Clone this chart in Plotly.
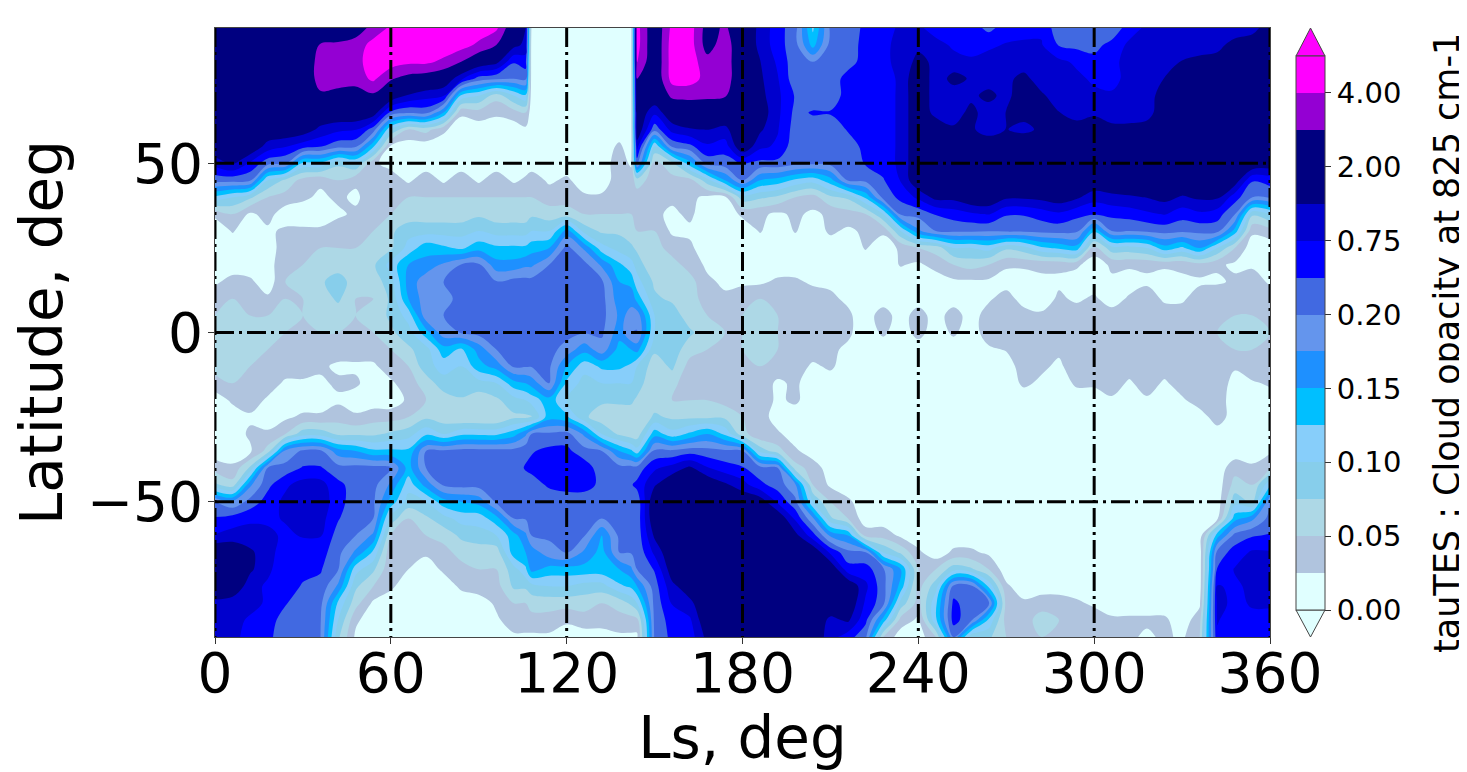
import numpy as np
import plotly.graph_objects as go

# Cloud opacity; each list runs from lat 90 to lat -90 in 5 deg steps
lats = list(range(90, -91, -5))
ls_000 = [2,2,2,2,2,2,2,2,1, .3,.12,.03,.01,.01,.01,.02,.04,.05, .06,.06,.06,.04,.01,.01,.01,.01,.04, .08,.22,.5,.8,2,2,2,1.2,1,1]
ls_006 = [2,2,2,2,2,2,2,2,1.5, .3,.1,.05,.027,.01,.01,.035,.05,.06, .06,.06,.06,.05,.03,.01,.01,.01,.03, .06,.18,.6,1,2,2,2,1,1,1]
ls_012 = [2,2,2,2,2,2,2,2,.7, .25,.08,.02,.01,.01,.01,.03,.05,.05, .06,.06,.05,.04,.04,.02,.03,.02,.08, .17,.3,.7,1,1.5,1.5,1,1,.7,.6]
ls_018 = [2,2,2,2,2,2,2,1.1,.3, .1,.05,.035,.02,.01,.01,.01,.03,.05, .06,.05,.05,.04,.02,.01,.03,.06,.2, .4,.6,.7,.9,1,.9,.7,.7,.6,.55]
ls_024 = [2,2,2,2,2,2,2,.8,.22, .07,.04,.01,.03,.04,.05,.05,.05,.06, .05,.05,.04,.02,.01,.02,.05,.18,.3, .7,.9,.8,.7,.6,.55,.6,.5,.35,.3]
ls_030 = [2,2,2,2,2,2,1.8,.6,.12, .04,.03,.01,.03,.05,.05,.06,.05,.05, .05,.04,.04,.02,.01,.03,.09,.25,.5, 1,1.1,1,.8,.6,.55,.45,.3,.28,.25]
ls_036 = [2,3.1,3.5,3.5,2.8,2,1.2,.5,.12, .03,.02,.01,.03,.05,.06,.07,.06,.06, .05,.04,.03,.02,.01,.03,.09,.25,.5, 1,1.1,1,.8,.6,.5,.4,.28,.22,.2]
ls_042 = [2,3.2,3.5,3.5,2.6,2,.9,.3,.08, .05,.03,.02,.04,.05,.06,.09,.08,.06, .05,.04,.02,.03,.02,.04,.07,.16,.3, .55,.6,.5,.35,.28,.22,.17,.12,.1,.08]
ls_048 = [2.5,3.4,3.6,3.5,2.4,2,.8,.25,.1, .03,.02,.03,.04,.05,.06,.06,.05,.05, .05,.04,.02,.03,.01,.03,.07,.15,.3, .35,.3,.25,.2,.17,.11,.08,.06,.03,.02]
ls_054 = [3.3,4.4,4.6,4.2,2.8,1.8,.35,.13,.03, .04,.04,.05,.05,.06,.07,.06,.05,.06, .05,.04,.02,.01,.01,.04,.07,.13,.3, .3,.25,.2,.17,.12,.08,.05,.02,.01,.01]
ls_060 = [4.2,4.6,4.5,3.1,2,.4,.1,.02,.015, .04,.05,.05,.07,.07,.11,.09,.08,.08, .07,.05,.04,.02,.01,.04,.08,.13,.22, .17,.14,.09,.05,.03,.03,.03,.01,.01,.01]
ls_066 = [4.6,4.6,4.2,2.6,1.3,.25,.05,.01,.01, .02,.05,.06,.09,.11,.15,.16,.15,.11, .09,.07,.05,.04,.03,.05,.09,.13,.14, .11,.09,.05,.03,.03,.025,.01,.01,.01,.01]
ls_072 = [4.6,4.6,4.2,2.4,1,.3,.06,.01,.01, .04,.05,.06,.09,.14,.16,.19,.19,.19, .14,.09,.09,.06,.05,.07,.12,.2,.2, .16,.1,.07,.05,.03,.01,.01,.01,.01,.01]
ls_078 = [4.6,4.6,3.8,2,.8,.15,.03,.01,.01, .02,.05,.06,.09,.13,.18,.2,.19,.2, .19,.14,.11,.09,.06,.06,.1,.25,.3, .25,.14,.09,.06,.04,.03,.01,.01,.01,.01]
ls_084 = [4.6,4.4,3,.9,.12,.03,.01,.01,.01, .04,.05,.06,.09,.12,.22,.3,.3,.25, .22,.12,.1,.1,.07,.05,.12,.3,.35, .3,.15,.11,.08,.06,.04,.03,.01,.01,.01]
ls_090 = [4.6,3.8,2,.35,.1,.04,.01,.01,.01, .02,.05,.07,.1,.14,.26,.3,.3,.3, .3,.16,.14,.09,.06,.05,.12,.3,.35, .3,.16,.11,.09,.06,.05,.04,.01,.01,.01]
ls_096 = [4.2,3,1.6,.25,.06,.03,.01,.01,.01, .04,.05,.06,.09,.13,.16,.22,.3,.28, .3,.2,.16,.1,.07,.05,.12,.3,.35, .35,.25,.14,.1,.06,.05,.04,.03,.02,.01]
ls_102 = [2,1.6,.5,.2,.1,.04,.01,.01,.01, .02,.05,.06,.09,.13,.16,.3,.3,.3, .3,.3,.25,.14,.09,.07,.14,.3,.35, .35,.3,.2,.14,.14,.09,.08,.05,.04,.02]
ls_106 = [1.4,1.2,.6,.3,.12,.05,.02,.01,.01, .03,.05,.06,.09,.13,.17,.3,.3,.3, .3,.3,.22,.15,.1,.07,.17,.4,.5, .35,.3,.22,.17,.15,.12,.08,.05,.04,.02]
ls_108 = [.02,.01,.01,.01,.01,.01,.01,.01,.01, .04,.05,.07,.1,.14,.17,.3,.3,.3, .3,.3,.22,.16,.11,.07,.2,.45,.55, .35,.3,.25,.2,.16,.16,.09,.06,.04,.02]
ls_114 = [.01,.01,.01,.01,.01,.01,.01,.01,.01, .02,.04,.06,.1,.15,.2,.3,.3,.3, .3,.3,.25,.2,.14,.14,.25,.55,.65, .52,.3,.25,.25,.19,.14,.1,.06,.04,.02]
ls_120 = [.01,.01,.01,.01,.01,.01,.01,.01,.01, .03,.04,.06,.16,.3,.3,.3,.3,.3, .3,.19,.15,.12,.1,.13,.3,.55,.65, .6,.3,.3,.28,.21,.14,.1,.06,.03,.01]
ls_126 = [.01,.01,.01,.01,.01,.01,.01,.01,.01, .01,.03,.05,.09,.17,.3,.3,.3,.3, .22,.16,.11,.09,.08,.08,.17,.3,.65, .6,.3,.3,.22,.17,.14,.09,.06,.04,.01]
ls_132 = [.01,.01,.01,.01,.01,.01,.01,.01,.01, .01,.03,.05,.07,.11,.17,.25,.3,.3, .25,.19,.13,.1,.08,.06,.1,.2,.3, .4,.3,.2,.15,.14,.14,.09,.05,.04,.01]
ls_138 = [.01,.01,.01,.01,.01,.01,.01,.03,.04, .04,.05,.05,.07,.09,.13,.15,.16,.17, .16,.14,.13,.1,.08,.06,.07,.15,.3, .35,.3,.3,.27,.2,.15,.12,.06,.04,.02]
ls_142 = [.01,.01,.01,.01,.01,.01,.01,.01,.02, .04,.05,.05,.06,.08,.11,.14,.17,.18, .2,.15,.12,.1,.08,.06,.06,.13,.3, .45,.3,.3,.28,.22,.17,.13,.08,.04,.02]
ls_144 = [4.4,4.4,4.1,3,2.5,2,2,1,.3, .06,.04,.04,.05,.07,.09,.11,.14,.19, .22,.16,.1,.09,.07,.05,.06,.11,.3, .55,.3,.3,.3,.25,.2,.15,.1,.04,.02]
ls_150 = [2,2,2,2,2,.9,.3,.1,.04, .04,.04,.03,.05,.06,.05,.07,.08,.1, .1,.08,.06,.05,.06,.08,.14,.25,.7, 1.3,2,2,1.5,.9,.5,.35,.3,.28,.25]
ls_156 = [4.3,4.5,4.5,4.4,3.2,2,1,.25,.07, .04,.03,.02,.02,.04,.06,.07,.07,.09, .1,.09,.08,.06,.05,.07,.11,.25,1, 2,2,2,2,2,1.8,1.2,.8,.6,.55]
ls_162 = [4.5,4.5,4.5,4.5,3.2,2.4,1.3,.4,.14, .04,.03,.03,.02,.03,.04,.06,.06,.06, .08,.06,.04,.03,.05,.07,.13,.35,1.5, 2.1,2.1,2,2,2,2,1.8,1.2,.7,.6]
ls_168 = [2.5,2.5,3.4,3.6,3.2,2.2,1.4,.7,.3, .09,.02,.01,.01,.01,.02,.03,.04,.05, .06,.05,.04,.03,.05,.07,.15,.3,.8, 2,2,2,2,2,2,2,2,2,1.6]
ls_174 = [3.2,3.6,3.6,3.6,3.1,2,1.2,.6,.35, .15,.02,.01,.01,.01,.01,.02,.03,.04, .05,.05,.04,.04,.04,.07,.12,.25,.6, 1.5,2,2,2,2,2,2,2,2,2]
ls_180 = [2,2,2,2,2,2,2,2,.5, .2,.09,.03,.01,.01,.01,.02,.04,.05, .05,.05,.04,.04,.04,.05,.06,.2,.5, 1,2,2,2,2,2,2,2,2,2]
ls_186 = [1.2,1.2,1.4,1.5,1.6,1.8,1.5,.9,.4, .15,.08,.03,.027,.01,.01,.02,.05,.06, .07,.06,.05,.04,.04,.04,.03,.09,.3, .55,1.8,2,2,2,2,2,2,2,2]
ls_192 = [.6,.6,.7,.8,.9,.9,.8,.7,.4, .14,.07,.02,.01,.01,.01,.03,.05,.05, .05,.05,.04,.02,.02,.01,.03,.06,.2, .35,.7,2,2,2,2,2,2,2,2]
ls_198 = [.3,.3,.3,.3,.45,.4,.35,.3,.28, .12,.05,.03,.027,.01,.01,.03,.05,.04, .04,.04,.04,.03,.03,.01,.01,.03,.06, .18,.28,.7,1.6,2,2,2,2,2,2]
ls_204 = [.12,.14,.2,.3,.3,.5,.35,.3,.25, .11,.04,.02,.01,.01,.01,.02,.04,.03, .04,.04,.02,.01,.01,.01,.01,.01,.04, .05,.1,.18,.6,2,2,2,2,2,2]
ls_210 = [.25,.3,.3,.3,.3,.5,.3,.3,.28, .14,.07,.03,.03,.01,.01,.02,.03,.03, .03,.03,.03,.01,.01,.01,.01,.01,.01, .02,.05,.08,.17,.7,2,2,2,1.2,1]
ls_216 = [.3,.3,.35,.6,.6,.6,.5,.35,.3, .22,.08,.04,.02,.01,.01,.01,.02,.03, .03,.02,.01,.01,.01,.01,.01,.01,.01, .01,.03,.05,.15,.28,.6,2,2,1.5,.6]
ls_222 = [.55,.6,.6,.6,.6,.6,.6,.55,.5, .28,.13,.05,.03,.027,.01,.01,.01,.01, .01,.01,.01,.01,.01,.01,.01,.01,.01, .01,.01,.01,.04,.22,.6,.9,.7,.55,.27]
ls_228 = [.7,.7,.7,.6,.6,.6,.6,.6,.6, .45,.3,.1,.03,.01,.01,.01,.01,.04, .03,.01,.01,.01,.01,.01,.01,.01,.01, .01,.01,.01,.04,.1,.25,.3,.3,.14,.05]
ls_234 = [.8,.9,.9,.9,.9,.9,.9,.9,.9, .8,.55,.25,.1,.03,.027,.01,.01,.01, .01,.01,.01,.01,.01,.01,.01,.01,.01, .01,.01,.01,.02,.07,.15,.14,.09,.04,.01]
ls_240 = [.9,1.2,1.6,2,2,2,2,2,2, 2,.9,.3,.17,.05,.02,.01,.01,.04, .035,.01,.01,.01,.01,.01,.01,.01,.01, .01,.01,.01,.01,.03,.05,.04,.04,.02,.01]
ls_246 = [.6,1,1.2,1,1,1.1,2,2,2, 2,1.6,.5,.2,.06,.035,.01,.01,.01, .01,.01,.01,.01,.01,.01,.01,.01,.01, .01,.01,.01,.01,.01,.05,.09,.12,.12,.05]
ls_252 = [.6,.7,1,1.6,1,1,1.5,2,2, 2,1.6,.6,.25,.1,.05,.02,.01,.04, .03,.01,.01,.01,.01,.01,.01,.01,.01, .01,.01,.01,.01,.03,.09,.28,.55,.6,.2]
ls_258 = [.6,.6,.9,1.3,1.2,1.6,1.5,2,2, 2,2,.7,.25,.1,.06,.02,.01,.01, .01,.01,.01,.01,.01,.01,.01,.01,.01, .01,.01,.01,.01,.03,.08,.3,.3,.25,.08]
ls_264 = [.4,.7,1,1,1.6,1,1,2,2, 2,2,.8,.22,.11,.05,.02,.02,.04, .04,.02,.01,.01,.01,.01,.01,.01,.01, .01,.01,.01,.01,.02,.05,.12,.25,.12,.08]
ls_270 = [.6,.8,.9,1.2,1.1,1.4,1.4,2,2, 2,1.5,.5,.25,.08,.03,.01,.04,.03, .03,.027,.01,.01,.01,.01,.01,.01,.01, .01,.01,.01,.01,.01,.01,.03,.04,.04,.05]
ls_276 = [.7,.8,1,1.6,2,1.6,1.2,2,2, 2,1.5,.5,.25,.09,.03,.01,.01,.04, .03,.04,.04,.03,.01,.01,.01,.01,.01, .01,.01,.01,.01,.01,.01,.01,.03,.04,.05]
ls_282 = [.7,.8,1,1,1.5,1.5,1.5,2,2, 2,1.6,.6,.28,.12,.03,.02,.01,.03, .04,.04,.03,.02,.01,.01,.01,.01,.01, .01,.01,.01,.01,.01,.01,.01,.04,.06,.05]
ls_288 = [.3,.45,.9,1,1,1.4,1.6,2,2, 2,1.8,.7,.3,.13,.03,.02,.03,.04, .04,.03,.02,.01,.01,.01,.01,.01,.01, .01,.01,.01,.01,.01,.01,.01,.04,.05,.05]
ls_294 = [.3,.4,.7,.9,1.1,1,1.8,2,2, 2,1.5,.55,.27,.14,.03,.01,.02,.04, .04,.04,.04,.03,.01,.01,.01,.01,.01, .01,.01,.01,.01,.01,.01,.01,.03,.05,.05]
ls_300 = [.3,.4,.55,.7,.9,1.2,2,2,2, 2,1,.5,.13,.04,.01,.01,.03,.04, .05,.04,.04,.03,.01,.01,.01,.01,.01, .01,.01,.01,.01,.01,.01,.01,.02,.04,.04]
ls_306 = [.3,.55,.7,.6,.9,1,1.6,2,2, 2,1.2,.55,.2,.09,.03,.02,.01,.04, .04,.04,.04,.04,.02,.01,.01,.01,.01, .01,.01,.01,.01,.01,.01,.01,.01,.03,.04]
ls_312 = [.6,.9,.9,1.1,1.1,1,1.6,2,2, 2,1.3,.6,.2,.09,.03,.01,.03,.04, .04,.04,.04,.02,.01,.01,.01,.01,.01, .01,.01,.01,.01,.01,.01,.01,.01,.03,.03]
ls_318 = [.9,.9,1,1,1,1,1.8,2,2, 2,1.4,.7,.25,.1,.03,.02,.04,.04, .04,.04,.05,.04,.02,.01,.01,.01,.01, .01,.01,.01,.01,.01,.01,.01,.01,.03,.02]
ls_324 = [1,1,1,1.4,1.8,2,2,2,2, 2,1.6,.8,.3,.14,.03,.01,.02,.04, .04,.04,.04,.02,.01,.01,.01,.01,.01, .01,.01,.01,.01,.01,.01,.01,.01,.03,.03]
ls_330 = [1,1.2,1.4,2,2,2,2,2,2, 2.2,1.3,.6,.25,.12,.03,.02,.02,.04, .05,.04,.04,.04,.02,.01,.01,.01,.01, .01,.01,.01,.01,.01,.01,.01,.01,.01,.02]
ls_336 = [1,1,1.6,2,2,2,2,2,2, 2,1.5,.7,.28,.15,.04,.02,.04,.05, .05,.05,.04,.04,.04,.01,.01,.01,.01, .01,.01,.01,.01,.01,.01,.01,.02,.04,.05]
ls_342 = [1.2,1.2,1.6,2,2,2,2,2,2, 2,1.5,.6,.3,.1,.03,.02,.05,.05, .05,.05,.05,.05,.04,.04,.01,.01,.01, .01,.01,.02,.14,.3,.5,.8,.9,.8,.7]
ls_348 = [1,1.6,2,2,2,2,2,2,2, 1.8,.6,.22,.14,.05,.02,.03,.05,.05, .06,.05,.03,.01,.01,.01,.01,.01,.04, .06,.09,.14,.3,.6,.8,.7,.7,.6,.6]
ls_354 = [1,2,2,2,2,2,2,2,2, .5,.2,.08,.03,.01,.02,.04,.04,.05, .06,.05,.05,.02,.02,.01,.01,.01,.03, .05,.07,.17,.45,.85,1,.9,.8,.7,.6]
ls_360 = [2,2,2,2,2,2,2,2,1.8, .6,.25,.1,.04,.01,.01,.02,.04,.05, .05,.04,.05,.03,.01,.01,.01,.02,.05, .12,.2,.3,.5,.8,1,1,.8,.7,.7]

ls_values = [0,6,12,18,24,30,36,42,48,54,60,66,72,78,84,90,96,102,106,108,114,120,126,132,138,142,144,
             150,156,162,168,174,180,186,192,198,204,210,216,222,228,234,240,246,252,258,264,270,276,282,
             288,294,300,306,312,318,324,330,336,342,348,354,360]
columns = [ls_000,ls_006,ls_012,ls_018,ls_024,ls_030,ls_036,ls_042,ls_048,ls_054,ls_060,ls_066,ls_072,ls_078,
           ls_084,ls_090,ls_096,ls_102,ls_106,ls_108,ls_114,ls_120,ls_126,ls_132,ls_138,ls_142,ls_144,ls_150,
           ls_156,ls_162,ls_168,ls_174,ls_180,ls_186,ls_192,ls_198,ls_204,ls_210,ls_216,ls_222,ls_228,ls_234,
           ls_240,ls_246,ls_252,ls_258,ls_264,ls_270,ls_276,ls_282,ls_288,ls_294,ls_300,ls_306,ls_312,ls_318,
           ls_324,ls_330,ls_336,ls_342,ls_348,ls_354,ls_360]

levels = [0,.025,.05,.075,.1,.125,.15,.175,.2,.475,.75,1.375,2,3,4,5]
band_colors = ["#e0ffff","#b0c4de","#add8e6","#87ceeb","#87cefa","#00bfff","#1e90ff","#6495ed",
               "#4169e1","#0000ff","#0000cd","#000080","#000080","#9400d3","#ff00ff"]
cbar_ticks = [0,2,4,6,8,10,12,14]
cbar_labels = ["0.00","0.05","0.10","0.15","0.20","0.75","2.00","4.00"]
x_ticks = [0,60,120,180,240,300,360]
y_ticks = [-50,0,50]

for name, c in zip(ls_values, columns):
    assert len(c) == len(lats), (name, len(c))
tau = np.array(columns, dtype=float).T
band = np.clip(np.interp(tau, levels, range(len(levels))), 0, 14.99)

n = len(band_colors)
scale = []
for i, col in enumerate(band_colors):
    scale += [[i / n, col], [(i + 1) / n, col]]

# window coordinates of the plot area; the page adds an 8 px body margin
PL, PR, PT, PB = 215, 1270, 28, 637
W, H = 1467, 772
OFF = 8
FONT = "DejaVu Sans"
def px(x): return (x - PL) / (PR - PL)
def py(y): return (PB - y) / (PB - PT)

fig = go.Figure()
fig.add_trace(go.Contour(
    x=ls_values, y=lats, z=band, zmin=0, zmax=15, zauto=False,
    autocontour=False, colorscale=scale, line_width=0, hoverinfo="skip",
    contours=dict(start=0, end=15, size=1, coloring="fill", showlines=False),
    colorbar=dict(
        tickmode="array", tickvals=cbar_ticks, ticktext=cbar_labels,
        tickfont=dict(size=29, family=FONT, color="black"),
        ticks="outside", ticklen=6, tickwidth=1, tickcolor="#333",
        thickness=29, thicknessmode="pixels", len=554, lenmode="pixels",
        x=px(1296), xanchor="left", y=py(56), yanchor="top", xpad=0, ypad=0,
        outlinewidth=1, outlinecolor="#444",
    ),
))
dash = "19px,5px,3px,5px"
for xv in x_ticks:
    fig.add_trace(go.Scatter(x=[xv, xv], y=[90, -90], mode="lines", showlegend=False, hoverinfo="skip",
                             line=dict(color="black", width=3, dash=dash)))
for yv in y_ticks:
    fig.add_trace(go.Scatter(x=[0, 360], y=[yv, yv], mode="lines", showlegend=False, hoverinfo="skip",
                             line=dict(color="black", width=3, dash=dash)))

shapes = [
    dict(type="path", xref="paper", yref="paper", fillcolor=band_colors[-1], line=dict(color="#444", width=1),
         path=f"M {px(1296)} {py(56)} L {px(1325)} {py(56)} L {px(1310.5)} {py(28)} Z"),
    dict(type="path", xref="paper", yref="paper", fillcolor=band_colors[0], line=dict(color="#444", width=1),
         path=f"M {px(1296)} {py(610)} L {px(1325)} {py(610)} L {px(1310.5)} {py(637)} Z"),
]
FW, FH = W - OFF, H - OFF
fig.update_layout(
    width=FW, height=FH, autosize=False, paper_bgcolor="white", plot_bgcolor="white", showlegend=False,
    margin=dict(l=PL - OFF, r=FW - (PR - OFF), t=PT - OFF, b=FH - (PB - OFF), autoexpand=False),
    font=dict(family=FONT, color="black"),
    shapes=shapes,
    xaxis=dict(range=[0, 360], tickmode="array", tickvals=x_ticks, showgrid=False, zeroline=False,
               ticks="outside", ticklen=6, tickcolor="#333", tickfont=dict(size=55, family=FONT),
               ticklabelstandoff=-18,
               showline=True, mirror=True, linecolor="#444", linewidth=1,
               title=dict(text="Ls, deg", font=dict(size=58, family=FONT), standoff=27)),
    yaxis=dict(range=[-90, 90], tickmode="array", tickvals=y_ticks, showgrid=False, zeroline=False,
               ticks="outside", ticklen=6, tickcolor="#333", tickfont=dict(size=55, family=FONT),
               ticklabelstandoff=-6,
               showline=True, mirror=True, linecolor="#444", linewidth=1,
               title=dict(text="Latitude, deg", font=dict(size=58, family=FONT))),
    annotations=[dict(text="tauTES : Cloud opacity at 825 cm-1", xref="paper", yref="paper",
                      x=px(1447), y=py(343), xanchor="center", yanchor="middle", textangle=-90, showarrow=False,
                      font=dict(size=35, family=FONT, color="black"))],
)
fig.write_html("out.html")
